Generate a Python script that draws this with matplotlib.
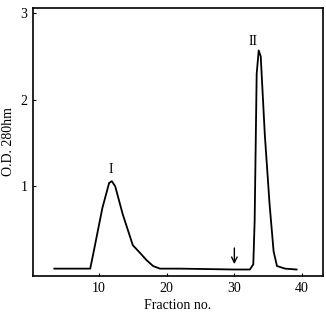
import matplotlib
matplotlib.use("Agg")
import matplotlib.pyplot as plt

fraction = [3.4, 8.7, 9.1, 10.5, 11.5, 11.9, 12.4, 13.5, 15.0, 16.2, 17.0, 18.0, 19.0, 22.0, 26.0, 30.0, 32.3, 32.8, 33.0, 33.3, 33.6, 33.9, 34.5, 35.2, 35.8, 36.3, 37.5, 39.2]
od = [0.05, 0.05, 0.2, 0.75, 1.04, 1.06, 1.0, 0.68, 0.32, 0.22, 0.15, 0.08, 0.05, 0.05, 0.045, 0.04, 0.04, 0.1, 0.6, 2.3, 2.57, 2.5, 1.6, 0.8, 0.25, 0.08, 0.05, 0.04]
xticks = [10, 20, 30, 40]
yticks = [1, 2, 3]
peak_labels = ["I", "II"]
peak_x = [11.8, 32.7]
peak_y = [1.12, 2.6]
arrow_x = 30

plt.rcParams['font.family'] = ['Liberation Serif', 'DejaVu Serif']
fig = plt.figure(figsize=(3.26, 3.13), dpi=100)
ax = fig.add_axes([33/326, 1-276/313, 290/326, 268/313])
ax.plot(fraction, od, color='black', lw=1.3)
ax.set_xlim(0.25, 43.1)
ax.set_ylim(-0.035, 3.06)
ax.set_xticks(xticks)
ax.set_yticks(yticks)
ax.tick_params(direction='in', length=2, width=0.8, labelsize=10, pad=4)
for s in ax.spines.values():
    s.set_linewidth(1.2)
ax.set_xlabel("Fraction no.", fontsize=10, labelpad=3.5)
ax.set_ylabel("O.D. 280hm", fontsize=10, labelpad=4)
for t, x, y in zip(peak_labels, peak_x, peak_y):
    ax.text(x, y, t, ha='center', va='bottom', fontsize=10)
ax.annotate("", xy=(arrow_x, 0.07), xytext=(arrow_x, 0.32),
            arrowprops=dict(arrowstyle='->', color='black', lw=1.0))
fig.savefig("out.png", dpi=100)
